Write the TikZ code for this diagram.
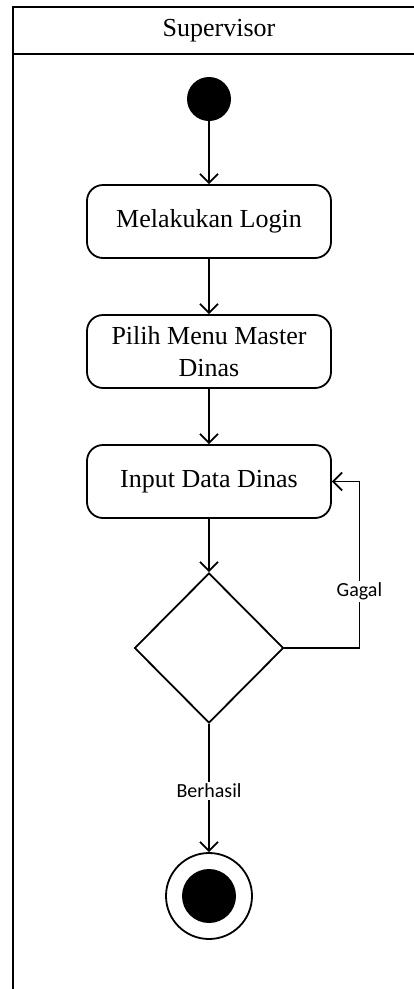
\documentclass[tikz,border=0pt]{standalone}
\usepackage{fontspec}
\setmainfont{Liberation Serif}
\newfontfamily\guardfont{Carlito}
\usetikzlibrary{arrows.meta,shapes.geometric}

\begin{document}
\begin{tikzpicture}[x=1pt,y=-1pt,
  lane/.style={line width=2.3pt},
  act/.style={draw, line width=1.8pt, rounded corners=16pt,
    minimum width=244pt, minimum height=73pt, inner sep=0pt,
    align=center, font=\fontsize{26}{32}\selectfont},
  decision/.style={draw, diamond, line width=1.8pt, aspect=1,
    minimum width=149pt, minimum height=150pt, inner sep=0pt},
  startnode/.style={circle, fill=black, minimum size=44pt, inner sep=0pt},
  endring/.style={circle, draw, line width=1.8pt, minimum size=86pt, inner sep=0pt},
  enddot/.style={circle, fill=black, minimum size=54pt, inner sep=0pt},
  flow/.style={line width=1.8pt,
    -{Straight Barb[length=9pt,width=18pt,line width=1.8pt]}},
  guard/.style={font=\guardfont\fontsize{20}{24}\selectfont,
    fill=white, inner sep=2pt}]

\useasboundingbox (0,0) rectangle (413,989);

% swimlane frame
\draw[lane] (13,989) -- (13,7) -- (414,7);
\draw[lane] (13,54) -- (414,54);
\node[font=\fontsize{26}{32}\selectfont] (lanetitle) at (219,31) {Supervisor};

% nodes
\node[startnode] (start) at (209,99) {};
\node[act] (login) at (209,221.5) {Melakukan Login};
\node[act] (menu) at (209,351.5) {Pilih Menu Master\\Dinas};
\node[act] (input) at (209,481.5) {Input Data Dinas};
\node[decision] (check) at (209,648) {};
\node[endring] (finish) at (209,896) {};
\node[enddot] (finishdot) at (finish.center) {};

% connectors
\draw[flow] (start) -- (login);
\draw[flow] (login) -- (menu);
\draw[flow] (menu) -- (input);
\draw[flow] (input) -- (check);
\draw[flow] (check.east) -- ++(75,0) |- node[guard, pos=0.17] {Gagal} (input.east);
\draw[flow] (check) -- node[guard, pos=0.52] {Berhasil} (finish);

\end{tikzpicture}
\end{document}
